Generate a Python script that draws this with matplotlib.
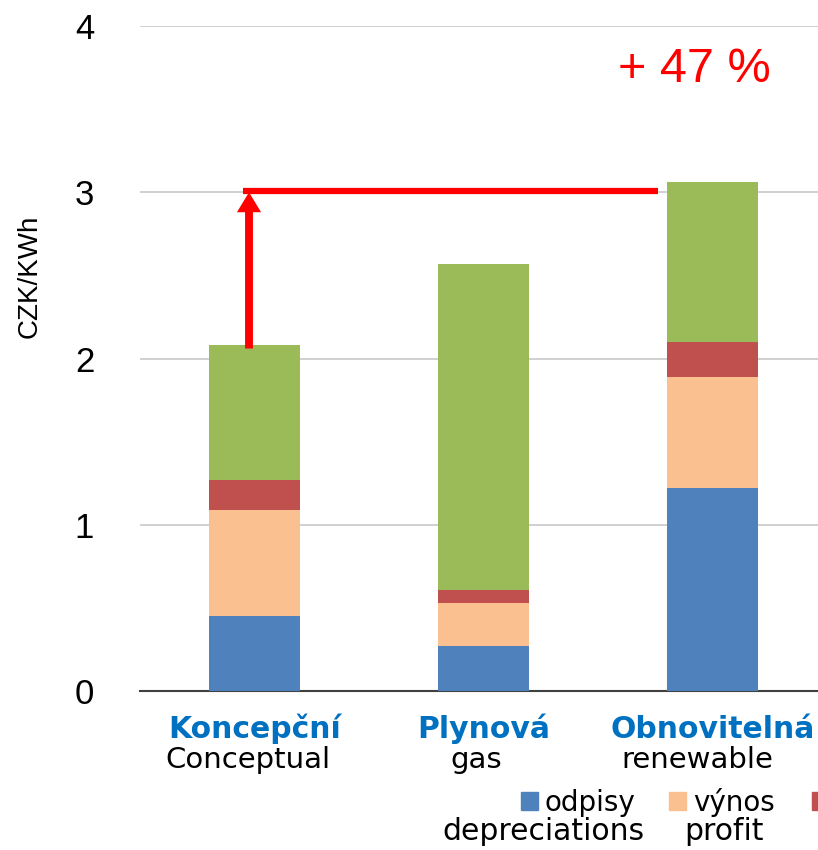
import numpy as np
import matplotlib
matplotlib.use("Agg")
import matplotlib.pyplot as plt
from matplotlib.patches import Rectangle

# ---- data ----------------------------------------------------
kategorie  = ["Koncepční", "Plynová", "Obnovitelná"]
categories = ["Conceptual", "gas", "renewable"]
odpisy     = [0.45, 0.27, 1.22]   # depreciations
vynos      = [0.64, 0.26, 0.67]   # profit
ostatni    = [0.18, 0.08, 0.21]   # red segment (legend text cut off)
palivo     = [0.81, 1.96, 0.96]   # green segment (legend text cut off)
yticks     = [0, 1, 2, 3, 4]
increase   = "+ 47 %"
arrow_level = 3.0

legend_cz = ["odpisy", "výnos", ""]
legend_en = ["depreciations", "profit", ""]

COLORS = ["#4F81BD", "#FAC090", "#C0504D", "#9BBB59"]
BLUE_TXT = "#0070C0"

plt.rcParams["font.family"] = ["Liberation Sans", "DejaVu Sans"]

W, H = 818, 850
fig = plt.figure(figsize=(W / 100, H / 100), dpi=100)
ax = fig.add_axes([140 / W, 159 / H, 687 / W, 665 / H])

x = np.arange(len(kategorie))
bottom = np.zeros(len(x))
for vals, c in zip([odpisy, vynos, ostatni, palivo], COLORS):
    ax.bar(x, vals, 0.4, bottom=bottom, color=c, zorder=3)
    bottom += np.array(vals)
total = bottom

ax.set_xlim(-0.5, 2.5)
ax.set_ylim(0, 4)
ax.set_yticks(yticks)
ax.set_xticks([])
ax.tick_params(axis="y", length=0, pad=33, labelsize=25)
for s in ["top", "right", "left"]:
    ax.spines[s].set_visible(False)
ax.spines["bottom"].set_color("#404040")
ax.spines["bottom"].set_linewidth(1.5)
ax.grid(axis="y", color="#C8C8C8", lw=1.2)
ax.set_axisbelow(True)

ax.text(-0.160, 0.623, "CZK/KWh", rotation=90, ha="center", va="center",
        fontsize=20, family=["Liberation Sans Narrow", "Liberation Sans"],
        transform=ax.transAxes)

# red arrow + bracket line
arr_x = x[0] - 0.024
ax.annotate("", xy=(arr_x, arrow_level), xytext=(arr_x, total[0] - 0.02),
            arrowprops=dict(arrowstyle="simple,head_length=0.48,head_width=0.58,tail_width=0.19",
                            color="red", lw=0, mutation_scale=30, shrinkA=0, shrinkB=0),
            zorder=5)
ax.plot([x[0] - 0.05, x[2] - 0.24], [arrow_level + 0.008] * 2, color="red", lw=4.5,
        solid_capstyle="butt", zorder=5)
ax.text(1.92, 3.74, increase, color="red", fontsize=35, ha="center", va="center")

# category labels
en_shift = [-0.03, -0.033, -0.067]
for i in x:
    ax.text(i, -0.283, kategorie[i], ha="center", va="baseline", color=BLUE_TXT,
            fontsize=21.5, fontweight="bold", family="DejaVu Sans", clip_on=False)
    ax.text(i + en_shift[i], -0.463, categories[i], ha="center", va="baseline",
            fontsize=21, family="DejaVu Sans", clip_on=False)

# legend (cut off at the right edge like the original)
leg_x = [521, 669, 812]
for lx, c, cz in zip(leg_x, COLORS, legend_cz):
    fig.patches.append(Rectangle((lx / W, 1 - 810 / H), 17 / W, 18 / H,
                                 color=c, transform=fig.transFigure))
    if cz:
        fig.text((lx + 24) / W, 1 - 811 / H, cz, fontsize=20, family="DejaVu Sans",
                 ha="left", va="baseline")
fig.text(645 / W, 1 - 840 / H, legend_en[0], fontsize=21.5, family="DejaVu Sans",
         ha="right", va="baseline")
fig.text(684 / W, 1 - 840 / H, legend_en[1], fontsize=21.5, family="DejaVu Sans",
         ha="left", va="baseline")

fig.savefig("out.png", dpi=100)
